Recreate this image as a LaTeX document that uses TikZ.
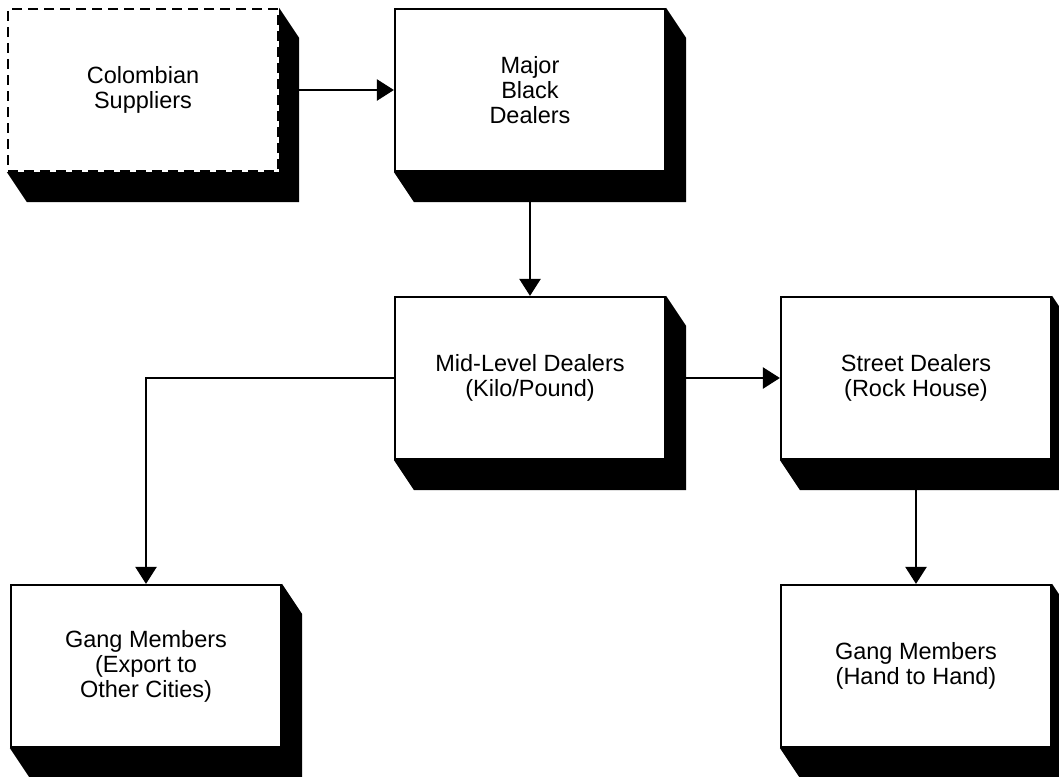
\documentclass[tikz,border=0pt]{standalone}
\usepackage{fontspec}
\setmainfont{Liberation Sans}
\usetikzlibrary{arrows.meta,calc}

\begin{document}
\begin{tikzpicture}[x=1pt,y=-1pt,
        box/.style={rectangle,draw=black,line width=2.2pt,fill=white,minimum width=270pt,minimum height=162pt,inner sep=0pt,align=center,font=\fontsize{23.5}{25}\selectfont},
        flow/.style={line width=2.4pt,-{Triangle[length=17pt,width=21pt]}}]
        \useasboundingbox (0,0) rectangle (1059,776);
        \node[box,dash pattern=on 10pt off 6pt] (col) at (143,90) {Colombian\\Suppliers};
        \node[box] (maj) at (530,90) {Major\\Black\\Dealers};
        \node[box] (mid) at (530,378) {Mid-Level Dealers\\(Kilo/Pound)};
        \node[box] (street) at (916,378) {Street Dealers\\(Rock House)};
        \node[box] (exp) at (146,666) {Gang Members\\(Export to\\Other Cities)};
        \node[box] (hand) at (916,666) {Gang Members\\(Hand to Hand)};
        % solid 3d shadow under each box
        \foreach \n in {col,maj,mid,street,exp,hand}{
                \fill (\n.north east) -- ($(\n.north east)+(20,30)$) -- ($(\n.south east)+(20,30)$) -- ($(\n.south west)+(20,30)$) -- (\n.south west) -- (\n.south east) -- cycle;
        }
        \draw[flow] ([xshift=20pt]col.east) -- (maj.west);
        \draw[flow] ([yshift=-30pt]maj.south) -- (mid.north);
        \draw[flow] ([xshift=20pt]mid.east) -- (street.west);
        \draw[flow] ([yshift=-30pt]street.south) -- (hand.north);
        \draw[flow] (mid.west) -| (exp.north);
        \end{tikzpicture}
\end{document}
